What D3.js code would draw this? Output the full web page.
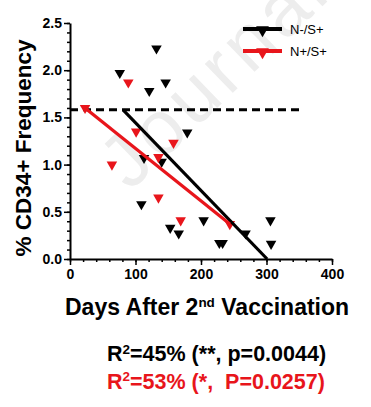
<!DOCTYPE html>
<html>
<head>
<meta charset="utf-8">
<script src="https://cdn.jsdelivr.net/npm/d3@7"></script>
<style>
  html, body { margin: 0; padding: 0; background: #fff; }
  svg { display: block; font-family: "Liberation Sans", Arial, sans-serif; }
  text { white-space: pre; }
</style>
</head>
<body>
<svg id="chart" width="371" height="407"></svg>
<script>
// ---- data ----
const seriesNames = ["N-/S+", "N+/S+"];
const blackDays = [76, 132, 121, 146, 179, 113, 140, 109, 153, 166, 204, 228, 233, 268, 306, 307];
const blackFreq = [1.97, 2.23, 1.78, 1.87, 1.34, 1.07, 1.03, 0.58, 0.33, 0.27, 0.41, 0.17, 0.17, 0.27, 0.41, 0.16];
const redDays = [23, 89, 101, 158, 64, 135, 135, 169, 244];
const redFreq = [1.60, 1.87, 1.35, 1.23, 1.00, 1.08, 0.65, 0.41, 0.37];
const blackFitDays = [81, 301];
const blackFitFreq = [1.58, 0.0];
const redFitDays = [21, 244];
const redFitFreq = [1.61, 0.37];
const baselineDays = [0, 351];
const baselineFreq = [1.58, 1.58];
const xTicks = [0, 100, 200, 300, 400];
const yTicks = [0, 0.5, 1.0, 1.5, 2.0, 2.5];
const statsLines = ["=45% (**, p=0.0044)", "=53% (*,  P=0.0257)"];

const BLACK = "#000";
const RED = "#e8151b";

const svg = d3.select("#chart");
const x = d3.scaleLinear().domain([0, 400]).range([70, 332]);
const y = d3.scaleLinear().domain([0, 2.5]).range([259, 23]);

// watermark
svg.append("text")
  .attr("transform", "translate(130,192) rotate(-44)")
  .attr("font-size", 76)
  .attr("letter-spacing", 5)
  .attr("fill", "#ededed")
  .text("Journal");

// axes
const minorY = d3.range(0, 2.5001, 0.1);
const minorX = d3.range(0, 400.1, 20);

const gy = svg.append("g").attr("transform", `translate(${x(0)},0)`);
gy.call(d3.axisLeft(y).tickValues(minorY).tickSize(3).tickFormat(""));
gy.call(g => g.select(".domain").remove());
const gy2 = svg.append("g").attr("transform", `translate(${x(0)},0)`);
gy2.call(d3.axisLeft(y).tickValues(yTicks).tickSize(6).tickSizeOuter(0).tickPadding(2).tickFormat(d3.format(".1f")));

const gx = svg.append("g").attr("transform", `translate(0,${y(0)})`);
gx.call(d3.axisBottom(x).tickValues(minorX).tickSize(3).tickFormat(""));
gx.call(g => g.select(".domain").remove());
const gx2 = svg.append("g").attr("transform", `translate(0,${y(0)})`);
gx2.call(d3.axisBottom(x).tickValues(xTicks).tickSize(6).tickSizeOuter(0).tickPadding(4).tickFormat(d3.format("d")));

svg.selectAll(".domain").attr("stroke-width", 2);
svg.selectAll(".tick line").attr("stroke-width", 1.5);
svg.selectAll(".tick text")
  .attr("font-family", "Liberation Sans, Arial, sans-serif")
  .attr("font-weight", "bold").attr("font-size", 14).attr("fill", "#000");

// baseline dashed
const line = d3.line().x(d => x(d[0])).y(d => y(d[1]));
svg.append("path")
  .attr("d", line(d3.zip(baselineDays, baselineFreq)))
  .attr("stroke", BLACK).attr("stroke-width", 3).attr("fill", "none")
  .attr("stroke-dasharray", "8,5");

// markers
const tri = d3.symbol().type(d3.symbolTriangle).size(48);
function drawPts(days, freq, color) {
  svg.append("g").selectAll("path").data(d3.zip(days, freq)).join("path")
    .attr("d", tri)
    .attr("transform", d => `translate(${x(d[0])},${y(d[1])}) rotate(180)`)
    .attr("fill", color);
}
drawPts(blackDays, blackFreq, BLACK);
drawPts(redDays, redFreq, RED);

// fit lines
svg.append("path").attr("d", line(d3.zip(blackFitDays, blackFitFreq)))
  .attr("stroke", BLACK).attr("stroke-width", 3.2).attr("fill", "none");
svg.append("path").attr("d", line(d3.zip(redFitDays, redFitFreq)))
  .attr("stroke", RED).attr("stroke-width", 3.2).attr("fill", "none");

// legend
const legColors = [BLACK, RED];
const leg = svg.append("g");
seriesNames.forEach((name, i) => {
  const ly = 29 + i * 22;
  leg.append("line").attr("x1", 243).attr("x2", 282).attr("y1", ly).attr("y2", ly)
    .attr("stroke", legColors[i]).attr("stroke-width", 4);
  leg.append("path").attr("d", d3.symbol().type(d3.symbolTriangle).size(70))
    .attr("transform", `translate(262.5,${ly + 1}) rotate(180)`).attr("fill", legColors[i]);
  leg.append("text").attr("x", 290).attr("y", ly + 5).attr("font-size", 13)
    .attr("fill", "#000").text(name);
});

// axis titles
svg.append("text")
  .attr("transform", "translate(31,148) rotate(-90)")
  .attr("text-anchor", "middle").attr("font-weight", "bold").attr("font-size", 22.5)
  .text("% CD34+ Frequency");

const xt = svg.append("text").attr("x", 65).attr("y", 315)
  .attr("font-weight", "bold").attr("font-size", 23);
xt.append("tspan").text("Days After 2");
xt.append("tspan").attr("font-size", 13.5).attr("dy", -8).text("nd");
xt.append("tspan").attr("dy", 8).text(" Vaccination");

// stats
statsLines.forEach((s, i) => {
  const t = svg.append("text").attr("x", 107).attr("y", 361 + i * 27.5)
    .attr("font-weight", "bold").attr("font-size", 21.5)
    .attr("fill", legColors[i]);
  t.append("tspan").text("R");
  t.append("tspan").attr("font-size", 13.5).attr("dy", -7.5).text("2");
  t.append("tspan").attr("dy", 7.5).text(s);
});
</script>
</body>
</html>
